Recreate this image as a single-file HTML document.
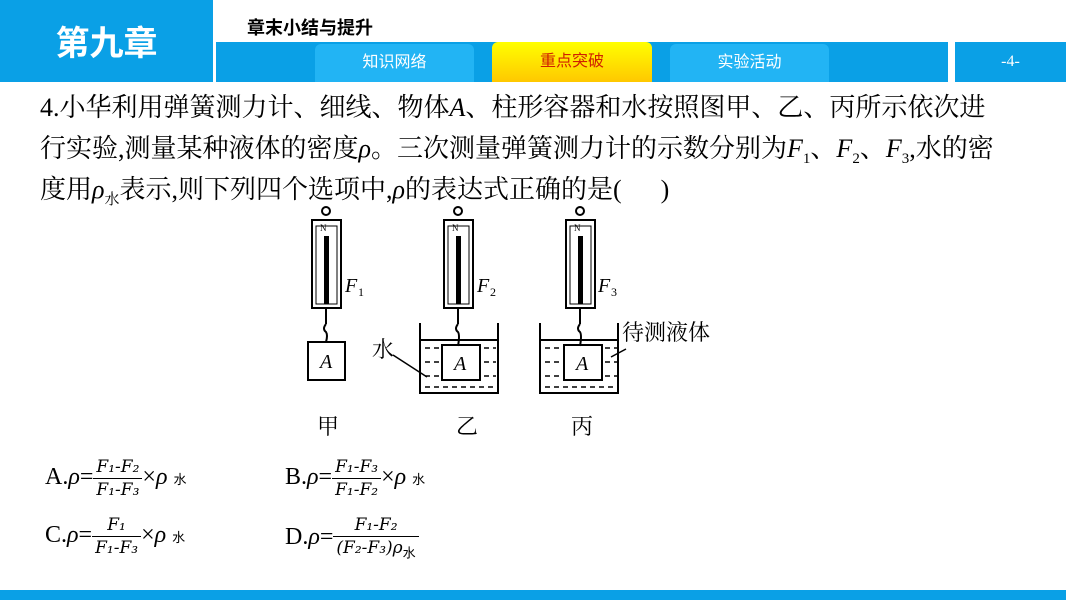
<!DOCTYPE html>
<html><head><meta charset="utf-8"><style>
body{margin:0;width:1066px;height:600px;position:relative;background:#fff;font-family:"Liberation Serif","Noto Serif CJK SC",serif;overflow:hidden}
.a{position:absolute}
.cj{font-family:"Liberation Sans","Noto Sans CJK SC",sans-serif}
.q{font-size:26px;left:40px;color:#000;white-space:nowrap;line-height:30px}
i{font-style:italic}
.fr{display:inline-block;vertical-align:middle;text-align:center;font-family:"DejaVu Serif",serif;font-style:italic;font-size:17px;line-height:22px}
.fr span{display:block;padding:0 3px}
.fr .n{border-bottom:1.5px solid #000}
.op{font-size:24px}
</style></head><body>
<div class="a" style="left:0;top:0;width:213px;height:82px;background:#0aa0e6"></div>
<div class="a cj" style="left:0;top:22px;width:213px;text-align:center;color:#fff;font-size:34px;font-weight:bold;line-height:44px">第九章</div>
<div class="a cj" style="left:247px;top:14px;font-size:18px;font-weight:bold;color:#000">章末小结与提升</div>
<div class="a" style="left:216px;top:42px;width:732px;height:40px;background:#0aa0e6"></div>
<div class="a cj" style="left:315px;top:44px;width:159px;height:38px;background:#22b4f4;border-radius:6px 6px 0 0;color:#fff;font-size:16px;text-align:center;line-height:38px">知识网络</div>
<div class="a cj" style="left:492px;top:42px;width:160px;height:40px;background:linear-gradient(#ffff00,#ffc800);border-radius:6px 6px 0 0;color:#d02000;font-size:16px;text-align:center;line-height:40px">重点突破</div>
<div class="a cj" style="left:670px;top:44px;width:159px;height:38px;background:#22b4f4;border-radius:6px 6px 0 0;color:#fff;font-size:16px;text-align:center;line-height:38px">实验活动</div>
<div class="a" style="left:955px;top:42px;width:111px;height:40px;background:#0aa0e6;color:#fff;font-size:16px;text-align:center;line-height:40px">-4-</div>
<div class="a" style="left:0;top:590px;width:1066px;height:10px;background:#0aa0e6"></div>

<div class="a q" style="top:93px">4.小华利用弹簧测力计、细线、物体<i>A</i>、柱形容器和水按照图甲、乙、丙所示依次进</div>
<div class="a q" style="top:134px">行实验,测量某种液体的密度<i>ρ</i>。三次测量弹簧测力计的示数分别为<i>F</i><sub style="font-size:15px">1</sub>、<i>F</i><sub style="font-size:15px">2</sub>、<i>F</i><sub style="font-size:15px">3</sub>,水的密</div>
<div class="a q" style="top:175px">度用<i>ρ</i><sub style="font-size:15px">水</sub>表示,则下列四个选项中,<i>ρ</i>的表达式正确的是(&nbsp;&nbsp;&nbsp;&nbsp;&nbsp;&nbsp;)</div>

<svg class="a" style="left:0;top:0" width="1066" height="600" viewBox="0 0 1066 600">
<g fill="none" stroke="#000" stroke-width="2">
<circle cx="326" cy="211" r="4"/><rect x="312" y="220" width="29" height="88"/><rect x="316" y="226" width="21" height="78" stroke-width="1"/>
<path d="M326 308v16M326 324q-4 5 0 8q2 3 0 10"/>
<rect x="308" y="342" width="37" height="38"/>
<circle cx="458" cy="211" r="4"/><rect x="444" y="220" width="29" height="88"/><rect x="448" y="226" width="21" height="78" stroke-width="1"/>
<path d="M458 308v16M458 324q-4 5 0 8q2 3 0 14"/>
<rect x="442" y="345" width="38" height="35"/>
<path d="M420 323v70h78v-70M420 340h78"/>
<circle cx="580" cy="211" r="4"/><rect x="566" y="220" width="29" height="88"/><rect x="570" y="226" width="21" height="78" stroke-width="1"/>
<path d="M580 308v16M580 324q-4 5 0 8q2 3 0 14"/>
<rect x="564" y="345" width="38" height="35"/>
<path d="M540 323v70h78v-70M540 340h78"/>
<path d="M393 355l34 22M611 357l15-8" stroke-width="1.5"/>
</g>
<g fill="#000">
<rect x="324" y="236" width="5" height="68"/><rect x="456" y="236" width="5" height="68"/><rect x="578" y="236" width="5" height="68"/>
</g>
<g stroke="#000" stroke-width="1.5" stroke-dasharray="5,4">
<path d="M425 348h14M425 362h14M425 376h14M484 348h12M484 362h12M484 376h12M425 387h70"/>
<path d="M545 348h14M545 362h14M545 376h14M605 348h12M605 362h12M605 376h12M545 387h70"/>
</g>
<g font-family="Liberation Serif,serif" font-size="9">
<text x="320" y="231">N</text><text x="452" y="231">N</text><text x="574" y="231">N</text>
</g>
<g font-family="Liberation Serif,serif" font-style="italic" font-size="20">
<text x="320" y="368">A</text><text x="454" y="370">A</text><text x="576" y="370">A</text>
<text x="345" y="292">F</text><text x="477" y="292">F</text><text x="598" y="292">F</text>
</g>
<g font-family="Liberation Serif,serif" font-size="12"><text x="358" y="296">1</text><text x="490" y="296">2</text><text x="611" y="296">3</text></g>
<g font-family="Liberation Serif,Noto Serif CJK SC,serif" font-size="22">
<text x="372" y="357">水</text><text x="622" y="340">待测液体</text>
<text x="317" y="434">甲</text><text x="456" y="434">乙</text><text x="571" y="434">丙</text>
</g>
</svg>

<div class="a op" style="left:45px;top:456px;white-space:nowrap">A.<i>ρ</i>=<span class="fr"><span class="n">F₁-F₂</span><span>F₁-F₃</span></span>×<i>ρ</i> <span style="font-size:13px;font-family:'Noto Sans CJK SC'">水</span></div>
<div class="a op" style="left:285px;top:456px;white-space:nowrap">B.<i>ρ</i>=<span class="fr"><span class="n">F₁-F₃</span><span>F₁-F₂</span></span>×<i>ρ</i> <span style="font-size:13px;font-family:'Noto Sans CJK SC'">水</span></div>
<div class="a op" style="left:45px;top:514px;white-space:nowrap">C.<i>ρ</i>=<span class="fr"><span class="n">&nbsp;&nbsp;F₁&nbsp;&nbsp;</span><span>F₁-F₃</span></span>×<i>ρ</i> <span style="font-size:13px;font-family:'Noto Sans CJK SC'">水</span></div>
<div class="a op" style="left:285px;top:514px;white-space:nowrap">D.<i>ρ</i>=<span class="fr"><span class="n">F₁-F₂</span><span>(F₂-F₃)ρ<sub style="font-style:normal;font-size:13px;font-family:'Noto Sans CJK SC'">水</sub></span></span></div>
</body></html>
